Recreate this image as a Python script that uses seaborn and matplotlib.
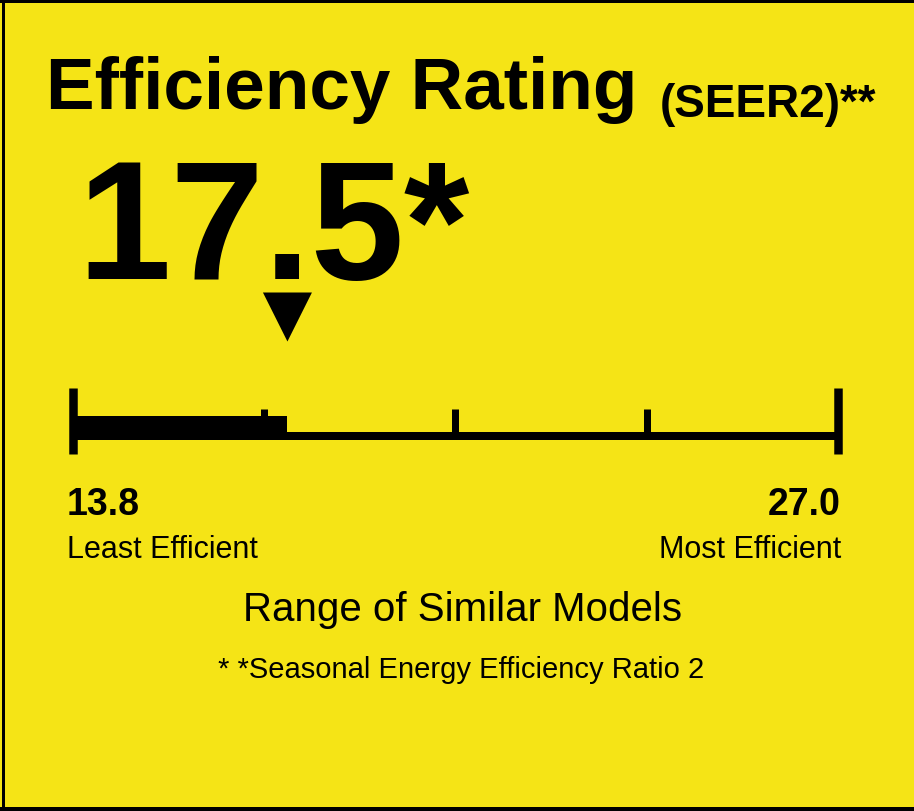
import matplotlib
matplotlib.use('Agg')
import matplotlib.pyplot as plt
import seaborn as sns
import pandas as pd

# Label values
scale_min = 13.8
scale_max = 27.0
rating = 17.5
tick_values = [17.1, 20.4, 23.7]

title = 'Efficiency Rating'
title_unit = '(SEER2)**'
rating_text = '17.5*'
min_label = 'Least Efficient'
max_label = 'Most Efficient'
range_label = 'Range of Similar Models'
footnote = '* *Seasonal Energy Efficiency Ratio 2'

yellow = '#F5E416'

sns.set_theme(style='white')
plt.rcParams['font.family'] = ['Liberation Sans', 'DejaVu Sans']

W, H = 914, 812
fig = plt.figure(figsize=(W / 100, H / 100), dpi=100)
fig.patch.set_facecolor(yellow)
ax = fig.add_axes([0, 0, 1, 1])
ax.set_facecolor(yellow)

# map the rating scale onto the label width (13.8 at x=73px, 27.0 at x=838px)
px_per_unit = (838 - 73) / (scale_max - scale_min)
x_left = scale_min - 73 / px_per_unit
x_right = x_left + W / px_per_unit
ax.set_xlim(x_left, x_right)
ax.set_ylim(H, 0)
ax.axis('off')

def px(v):
    return x_left + v / px_per_unit

pt = 0.72  # points per pixel at dpi 100

# scale line
line_df = pd.DataFrame({'x': [scale_min, scale_max], 'y': [437, 437]})
sns.lineplot(data=line_df, x='x', y='y', color='black', lw=8 * pt, ax=ax,
             solid_capstyle='butt')

# filled part up to the rating
ax.barh(429, rating - scale_min, left=scale_min, height=24, color='black',
        edgecolor='none', linewidth=0)

# end bars and quarter ticks
ax.vlines([scale_min, scale_max], 389, 455, color='black', lw=8.5 * pt)
ax.vlines(tick_values, 410, 437, color='black', lw=7 * pt)

# rating marker
marker_df = pd.DataFrame({'x': [rating], 'y': [318]})
sns.scatterplot(data=marker_df, x='x', y='y', marker='v', s=(49 * pt) ** 2,
                color='black', edgecolor='none', ax=ax, legend=False)

# texts
ax.text(px(46), 109, title, fontsize=52.5, fontweight='bold', color='black',
        va='baseline', ha='left')
ax.text(px(660), 117, title_unit, fontsize=33, fontweight='bold', color='black',
        va='baseline', ha='left')
ax.text(px(77), 279, rating_text, fontsize=121, fontweight='bold', color='black',
        va='baseline', ha='left')

ax.text(px(67), 515, f'{scale_min:.1f}', fontsize=27, fontweight='bold',
        color='black', va='baseline', ha='left')
ax.text(px(841), 515, f'{scale_max:.1f}', fontsize=27, fontweight='bold',
        color='black', va='baseline', ha='right')
ax.text(px(67), 558, min_label, fontsize=22, color='black',
        va='baseline', ha='left')
ax.text(px(841), 558, max_label, fontsize=22, color='black',
        va='baseline', ha='right')
ax.text(px(463), 621, range_label, fontsize=29, color='black',
        va='baseline', ha='center')
ax.text(px(461), 678, footnote, fontsize=21, color='black',
        va='baseline', ha='center')

# border
ax.axhline(2, color='black', lw=4 * pt)
ax.axhline(H - 2, color='black', lw=4 * pt)
ax.axvline(px(3), color='black', lw=3 * pt)

fig.savefig('out.png', dpi=100, facecolor=yellow)
